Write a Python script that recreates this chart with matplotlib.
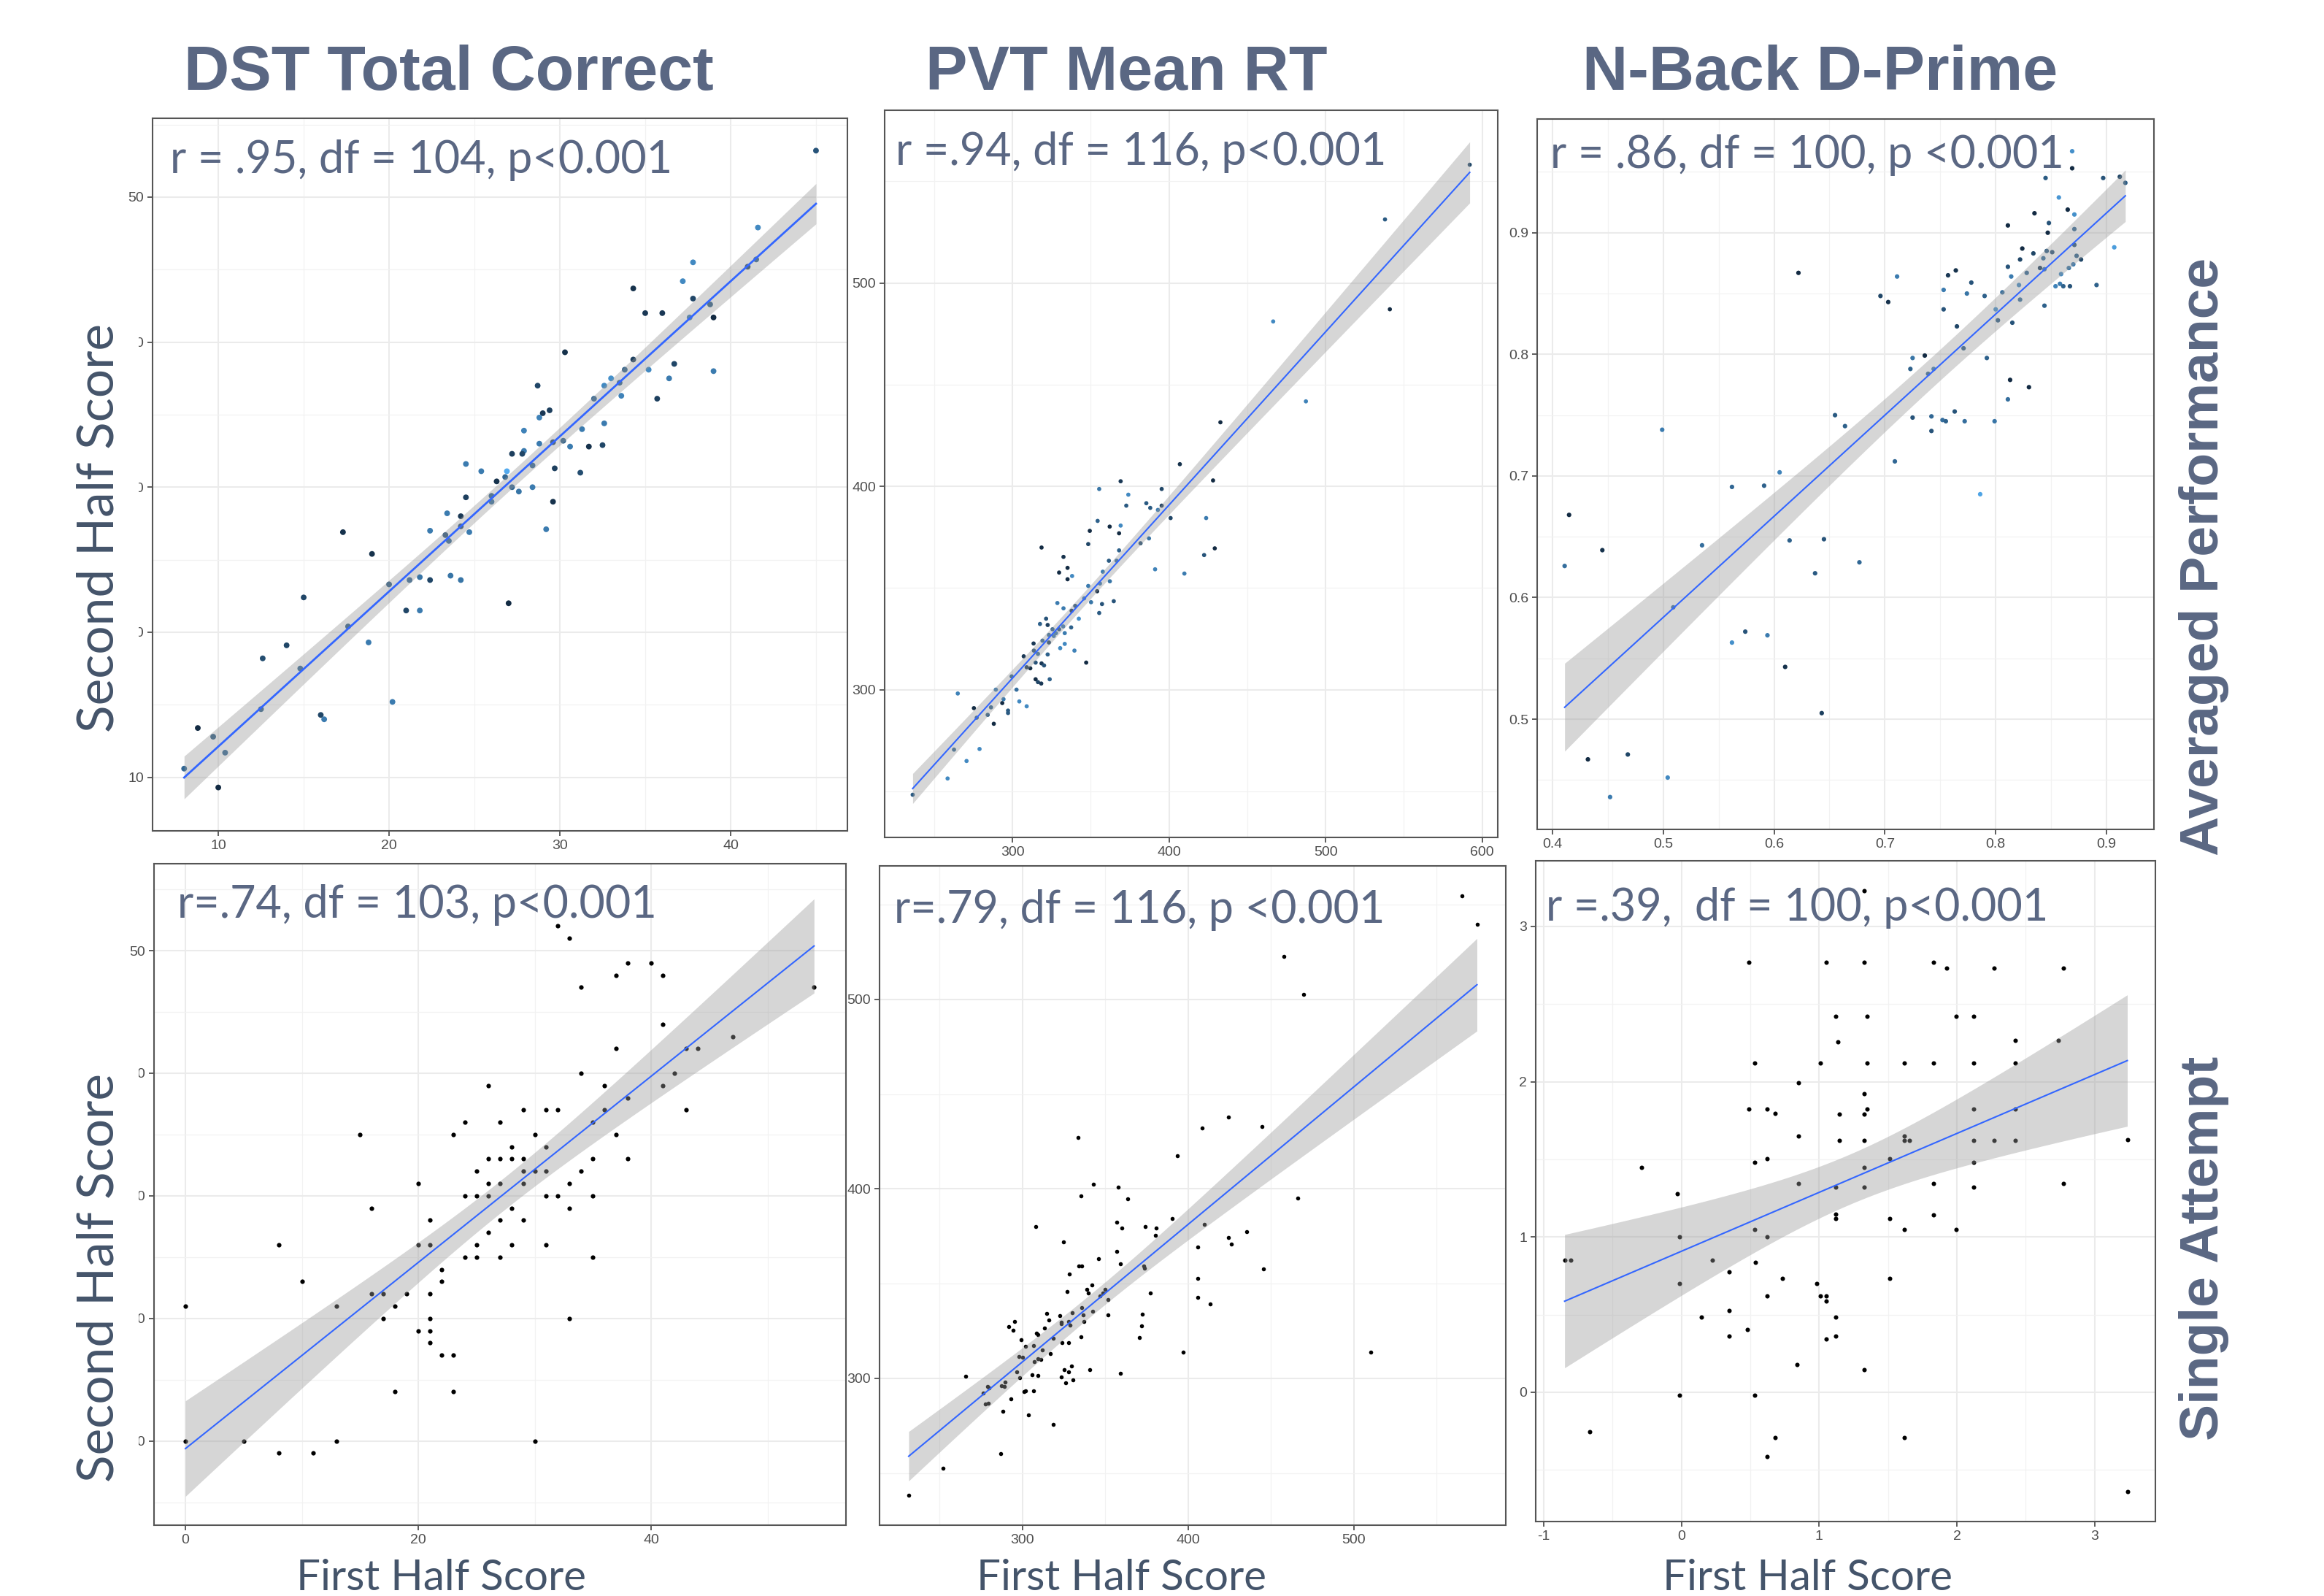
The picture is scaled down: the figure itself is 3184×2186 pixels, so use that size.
import numpy as np
import matplotlib
matplotlib.use("Agg")
import matplotlib.pyplot as plt
from matplotlib.patches import Rectangle

plt.rcParams['axes.unicode_minus'] = False

W, H = 3184, 2186

col_titles = ["DST Total Correct", "PVT Mean RT", "N-Back D-Prime"]
row_titles = ["Averaged Performance", "Single Attempt"]
stats = ["r = .95, df = 104, p<0.001", "r =.94, df = 116, p<0.001", "r = .86, df = 100, p <0.001",
         "r=.74, df = 103, p<0.001", "r=.79, df = 116, p <0.001", "r =.39,  df = 100, p<0.001"]

# DST averaged: x, y, colour level (0 = dark, 1 = light)
dst_avg_x = [45.0, 41.6, 41.5, 41.0, 37.8, 37.2, 34.3, 37.8, 35.0, 36.0, 38.8, 39.0, 37.6, 30.3, 34.3, 33.8,
             35.2, 36.7, 39.0, 33.0, 36.4, 33.5, 32.6, 28.7, 32.0, 33.6, 35.7, 29.4, 29.0, 28.8, 32.6, 27.9,
             31.3, 30.2, 29.6, 28.8, 30.6, 31.7, 32.5, 27.9, 27.8, 27.2, 24.5, 25.4, 28.4, 29.7, 31.2, 26.9,
             26.8, 26.3, 27.2, 27.6, 28.4, 26.0, 26.0, 24.5, 29.6, 23.4, 24.2, 24.2, 22.4, 24.7, 23.3, 23.5,
             29.2, 17.3, 19.0, 20.0, 21.2, 21.8, 22.4, 23.6, 24.2, 21.0, 21.8, 27.0, 15.0, 17.6, 18.8, 14.0,
             12.6, 14.8, 20.2, 12.5, 16.0, 16.2, 8.8, 9.7, 10.4, 8.0, 10.0]
dst_avg_y = [53.2, 47.9, 45.7, 45.2, 45.5, 44.2, 43.7, 43.0, 42.0, 42.0, 42.6, 41.7, 41.7, 39.3, 38.8, 38.1,
             38.1, 38.5, 38.0, 37.5, 37.5, 37.2, 37.0, 37.0, 36.1, 36.3, 36.1, 35.3, 35.1, 34.8, 34.4, 33.9,
             34.0, 33.2, 33.1, 33.0, 32.8, 32.8, 32.9, 32.5, 32.3, 32.3, 31.6, 31.1, 31.5, 31.3, 31.0, 31.1,
             30.7, 30.4, 30.0, 29.7, 30.0, 29.4, 29.0, 29.3, 29.0, 28.2, 28.0, 27.3, 27.0, 26.9, 26.7, 26.3,
             27.1, 26.9, 25.4, 23.3, 23.6, 23.8, 23.6, 23.9, 23.6, 21.5, 21.5, 22.0, 22.4, 20.4, 19.3, 19.1,
             18.2, 17.5, 15.2, 14.7, 14.3, 14.0, 13.4, 12.8, 11.7, 10.6, 9.3]
dst_avg_c = [0.3, 0.7, 0.4, 0.2, 0.7, 0.7, 0.05, 0.2, 0.1, 0.1, 0.35, 0.0, 0.6, 0.05, 0.15, 0.4,
             0.7, 0.2, 0.6, 0.75, 0.6, 0.4, 0.7, 0.2, 0.45, 0.65, 0.15, 0.15, 0.1, 0.65, 0.6, 0.65,
             0.6, 0.4, 0.2, 0.6, 0.6, 0.05, 0.2, 0.6, 0.2, 0.15, 0.6, 0.6, 0.45, 0.15, 0.25, 0.95,
             0.45, 0.05, 0.45, 0.55, 0.6, 0.4, 0.5, 0.15, 0.05, 0.6, 0.1, 0.25, 0.6, 0.6, 0.3, 0.45,
             0.6, 0.05, 0.05, 0.35, 0.45, 0.55, 0.2, 0.55, 0.55, 0.2, 0.6, 0.0, 0.2, 0.35, 0.6, 0.2,
             0.25, 0.45, 0.6, 0.4, 0.2, 0.6, 0.0, 0.35, 0.45, 0.45, 0.0]

# PVT averaged
pvt_avg_x = [592.0, 537.9, 541.0, 466.5, 487.4, 432.8, 406.9, 428.1, 369.1, 355.4, 395.3, 374.0, 385.5, 372.7,
             388.0, 392.9, 395.3, 369.1, 362.1, 354.4, 349.4, 368.1, 423.7, 401.0, 318.6, 348.4, 381.8, 387.2,
             429.2, 422.4, 332.6, 368.1, 361.6, 366.5, 335.2, 329.8, 338.1, 335.2, 357.7, 391.1, 409.8, 362.2,
             348.4, 355.9, 354.1, 350.2, 357.2, 364.7, 355.4, 345.8, 332.6, 340.1, 337.8, 328.7, 342.4, 321.5,
             317.6, 322.5, 325.6, 332.4, 337.5, 329.8, 327.8, 333.4, 323.3, 326.4, 319.2, 313.5, 323.3, 333.4,
             330.5, 339.6, 313.7, 316.3, 322.5, 307.2, 309.1, 311.4, 318.6, 320.2, 314.8, 347.1, 314.8, 316.3,
             318.4, 323.8, 299.5, 302.6, 289.4, 265.1, 293.5, 294.3, 304.4, 309.1, 275.4, 297.2, 297.2, 286.3,
             277.2, 288.1, 284.2, 262.7, 279.0, 270.7, 258.6, 236.3]
pvt_avg_y = [558.2, 531.3, 487.1, 481.1, 441.8, 431.5, 410.9, 402.9, 402.5, 398.7, 398.7, 395.9, 391.7, 390.5,
             389.4, 388.4, 390.5, 380.7, 380.2, 383.0, 378.1, 376.9, 384.4, 384.4, 369.9, 371.6, 372.0, 374.4,
             369.5, 366.2, 365.3, 368.5, 363.4, 363.4, 359.9, 357.6, 355.9, 354.3, 358.0, 359.2, 357.1, 353.3,
             351.0, 352.2, 348.4, 343.0, 342.1, 343.5, 337.7, 344.9, 340.0, 341.2, 338.8, 342.6, 334.9, 334.9,
             332.3, 331.8, 329.7, 331.1, 330.6, 329.7, 327.8, 327.8, 326.9, 326.4, 324.1, 322.7, 323.2, 322.5,
             320.4, 319.2, 319.2, 317.6, 317.3, 316.4, 311.0, 310.5, 312.9, 311.9, 313.3, 313.3, 305.1, 303.7,
             303.0, 305.1, 306.5, 300.0, 300.0, 298.1, 293.4, 295.3, 294.2, 291.8, 290.9, 289.7, 288.5, 291.3,
             286.2, 283.2, 287.6, 270.5, 270.8, 264.9, 256.3, 248.3]
pvt_avg_c = [0.2, 0.35, 0.0, 0.7, 0.65, 0.0, 0.05, 0.0, 0.1, 0.55, 0.2, 0.7, 0.35, 0.35,
             0.35, 0.6, 0.15, 0.7, 0.0, 0.4, 0.0, 0.0, 0.6, 0.2, 0.0, 0.2, 0.25, 0.55,
             0.0, 0.3, 0.05, 0.4, 0.35, 0.5, 0.0, 0.0, 0.7, 0.0, 0.6, 0.65, 0.6, 0.55,
             0.6, 0.6, 0.0, 0.55, 0.3, 0.3, 0.35, 0.6, 0.6, 0.3, 0.1, 0.6, 0.75, 0.3,
             0.4, 0.15, 0.4, 0.6, 0.4, 0.3, 0.6, 0.6, 0.5, 0.6, 0.45, 0.1, 0.2, 0.7,
             0.7, 0.65, 0.3, 0.5, 0.4, 0.1, 0.1, 0.0, 0.1, 0.3, 0.3, 0.0, 0.0, 0.2,
             0.1, 0.4, 0.4, 0.5, 0.6, 0.65, 0.0, 0.6, 0.7, 0.7, 0.0, 0.35, 0.35, 0.4,
             0.4, 0.0, 0.35, 0.45, 0.7, 0.7, 0.7, 0.35]

# N-Back averaged
nb_avg_x = [0.869, 0.869, 0.845, 0.897, 0.912, 0.917, 0.857, 0.835, 0.865, 0.871, 0.811, 0.848, 0.847, 0.871,
            0.871, 0.907, 0.824, 0.846, 0.851, 0.834, 0.843, 0.822, 0.873, 0.877, 0.811, 0.840, 0.844, 0.870,
            0.866, 0.828, 0.859, 0.814, 0.757, 0.764, 0.711, 0.622, 0.778, 0.821, 0.858, 0.854, 0.861, 0.867,
            0.891, 0.753, 0.806, 0.774, 0.696, 0.790, 0.822, 0.703, 0.844, 0.753, 0.800, 0.802, 0.815, 0.765,
            0.771, 0.736, 0.725, 0.792, 0.723, 0.744, 0.739, 0.813, 0.830, 0.811, 0.655, 0.725, 0.742, 0.763,
            0.752, 0.755, 0.772, 0.799, 0.664, 0.742, 0.499, 0.709, 0.605, 0.562, 0.591, 0.786, 0.415, 0.445,
            0.535, 0.614, 0.645, 0.411, 0.677, 0.637, 0.509, 0.574, 0.594, 0.562, 0.610, 0.643, 0.468, 0.432,
            0.504, 0.452]
nb_avg_y = [0.967, 0.953, 0.945, 0.945, 0.946, 0.941, 0.929, 0.916, 0.919, 0.915, 0.906, 0.908, 0.900, 0.903,
            0.890, 0.888, 0.887, 0.885, 0.884, 0.883, 0.879, 0.878, 0.881, 0.878, 0.872, 0.871, 0.870, 0.874,
            0.871, 0.867, 0.866, 0.864, 0.865, 0.869, 0.864, 0.867, 0.859, 0.857, 0.858, 0.856, 0.856, 0.856,
            0.857, 0.853, 0.851, 0.850, 0.848, 0.848, 0.845, 0.843, 0.840, 0.837, 0.837, 0.828, 0.826, 0.823,
            0.805, 0.799, 0.797, 0.797, 0.788, 0.788, 0.784, 0.779, 0.773, 0.763, 0.750, 0.748, 0.749, 0.753,
            0.746, 0.745, 0.745, 0.745, 0.741, 0.737, 0.738, 0.712, 0.703, 0.691, 0.692, 0.685, 0.668, 0.639,
            0.643, 0.647, 0.648, 0.626, 0.629, 0.620, 0.592, 0.572, 0.569, 0.563, 0.543, 0.505, 0.471, 0.467,
            0.452, 0.436]
nb_avg_c = [0.75, 0.0, 0.35, 0.3, 0.2, 0.35, 0.8, 0.0, 0.0, 0.75, 0.0, 0.3, 0.0, 0.45,
            0.3, 0.85, 0.0, 0.35, 0.3, 0.2, 0.5, 0.2, 0.4, 0.2, 0.3, 0.15, 0.6, 0.6,
            0.55, 0.45, 0.7, 0.6, 0.1, 0.05, 0.6, 0.0, 0.3, 0.7, 0.6, 0.65, 0.4, 0.3,
            0.4, 0.6, 0.5, 0.55, 0.2, 0.4, 0.5, 0.05, 0.4, 0.3, 0.75, 0.35, 0.3, 0.2,
            0.35, 0.0, 0.55, 0.4, 0.4, 0.6, 0.45, 0.0, 0.0, 0.5, 0.35, 0.3, 0.45, 0.3,
            0.5, 0.4, 0.5, 0.55, 0.4, 0.3, 0.6, 0.45, 0.65, 0.45, 0.4, 0.9, 0.0, 0.05,
            0.5, 0.4, 0.3, 0.5, 0.45, 0.35, 0.5, 0.3, 0.6, 0.75, 0.05, 0.15, 0.2, 0.0,
            0.7, 0.6]

# DST single attempt
dst_one_x = [32, 33, 38, 40, 37, 41, 34, 54, 41, 47, 37, 43, 44, 34, 42, 26, 36, 41, 38, 29, 31, 32, 36, 43,
             24, 27, 35, 15, 23, 30, 37, 28, 31, 26, 27, 28, 29, 35, 38, 25, 29, 30, 31, 34, 20, 26, 27, 29,
             33, 24, 25, 26, 31, 32, 35, 16, 28, 33, 21, 27, 29, 26, 8, 20, 21, 25, 28, 31, 24, 25, 27, 35,
             22, 10, 22, 16, 17, 19, 21, 0, 13, 18, 17, 21, 33, 20, 21, 21, 22, 23, 18, 23, 0, 5, 13, 30, 8, 11]
dst_one_y = [52, 51, 49, 49, 48, 48, 47, 47, 44, 43, 42, 42, 42, 40, 40, 39, 39, 39, 38, 37, 37, 37, 37, 37,
             36, 36, 36, 35, 35, 35, 35, 34, 34, 33, 33, 33, 33, 33, 33, 32, 32, 32, 32, 32, 31, 31, 31, 31,
             31, 30, 30, 30, 30, 30, 30, 29, 29, 29, 28, 28, 28, 27, 26, 26, 26, 26, 26, 26, 25, 25, 25, 25,
             24, 23, 23, 22, 22, 22, 22, 21, 21, 21, 20, 20, 20, 19, 19, 18, 17, 17, 14, 14, 10, 10, 10, 10, 9, 9]

# PVT single attempt
pvt_one_x = [565.3, 574.3, 457.9, 469.7, 424.4, 408.6, 444.5, 333.7, 393.4, 342.8, 357.9, 335.2, 363.3, 466.3,
             390.2, 308.1, 357.0, 359.9, 374.1, 380.5, 409.6, 380.2, 435.2, 424.4, 426.2, 324.7, 405.6, 356.7,
             345.7, 359.2, 373.3, 373.6, 445.5, 334.0, 335.7, 328.1, 405.6, 342.1, 326.9, 338.9, 339.6, 377.0,
             346.7, 348.4, 349.9, 351.6, 405.6, 413.4, 335.7, 342.5, 372.4, 351.8, 314.4, 322.5, 329.8, 336.7,
             316.1, 323.6, 327.9, 336.9, 323.2, 328.6, 371.9, 291.7, 295.1, 294.4, 313.1, 308.3, 309.3, 299.0,
             318.6, 327.9, 323.7, 335.5, 370.7, 301.7, 306.8, 312.0, 297.8, 300.0, 309.3, 311.0, 316.9, 307.3,
             296.6, 298.5, 305.6, 309.3, 323.5, 325.0, 327.6, 329.6, 330.3, 325.9, 340.6, 358.9, 265.8, 289.5,
             287.3, 289.2, 278.7, 279.7, 276.3, 300.9, 301.9, 306.8, 292.9, 277.8, 279.5, 288.0, 303.7, 318.6,
             396.8, 510.3, 287.0, 252.1, 231.3]
pvt_one_y = [554.7, 539.5, 522.7, 502.7, 437.8, 432.0, 432.8, 427.3, 417.4, 402.6, 401.1, 396.4, 394.6, 395.1,
             384.5, 380.0, 382.6, 379.4, 380.1, 379.4, 381.1, 375.4, 377.4, 374.2, 370.7, 372.2, 369.2, 367.0,
             363.2, 360.4, 359.4, 358.2, 357.9, 359.2, 359.4, 354.9, 352.7, 349.4, 345.9, 346.9, 344.9, 344.9,
             343.6, 344.9, 346.9, 341.7, 342.7, 339.2, 337.5, 335.5, 334.0, 333.5, 334.2, 333.2, 334.5, 333.5,
             330.7, 329.5, 330.0, 330.2, 328.7, 328.0, 327.7, 327.2, 330.2, 325.5, 326.5, 323.7, 323.2, 320.2,
             321.0, 318.7, 318.7, 322.0, 321.7, 317.0, 317.3, 315.0, 311.5, 311.0, 310.5, 310.0, 313.0, 308.7,
             303.5, 300.3, 301.8, 301.5, 300.7, 304.5, 303.5, 306.5, 299.3, 297.5, 304.5, 302.7, 301.2, 298.0,
             296.3, 295.8, 295.8, 295.0, 292.3, 293.0, 293.5, 293.5, 289.3, 286.5, 287.0, 282.5, 280.8, 275.8,
             314.0, 314.0, 260.3, 252.6, 238.3]

# N-Back single attempt
nb_one_x = [1.327, 0.489, 1.053, 1.327, 1.829, 1.927, 2.272, 2.774, 1.122, 1.351, 1.996, 2.123, 1.137, 2.426,
            2.735, 0.533, 1.009, 1.351, 1.621, 1.829, 2.123, 2.426, 0.851, 1.327, 0.489, 0.620, 0.682, 1.149,
            1.327, 1.351, 2.123, 2.426, 0.851, 1.149, 1.327, 1.621, 1.621, 1.657, 2.123, 2.272, 2.426, 3.238,
            0.620, 0.533, 2.123, 1.511, -0.287, 1.327, 0.851, 1.829, 2.774, 1.122, 1.327, 2.123, -0.031, 1.122,
            1.122, 1.829, 1.511, 0.533, 1.621, 1.996, -0.013, 0.620, -0.848, -0.801, 0.224, 0.539, 0.349, 0.736,
            1.511, -0.013, 0.982, 0.620, 1.009, 1.053, 1.053, 0.349, 0.147, 1.122, 0.477, 0.349, 1.053, 1.122,
            0.837, 1.327, -0.013, 0.533, -0.667, 0.682, 1.621, 0.620, 3.238]
nb_one_y = [3.232, 2.768, 2.768, 2.768, 2.768, 2.732, 2.732, 2.732, 2.421, 2.421, 2.421, 2.421, 2.256, 2.268,
            2.268, 2.122, 2.122, 2.122, 2.122, 2.122, 2.122, 2.122, 1.994, 1.924, 1.826, 1.826, 1.796, 1.793,
            1.793, 1.826, 1.826, 1.826, 1.652, 1.622, 1.622, 1.652, 1.622, 1.622, 1.622, 1.622, 1.622, 1.628,
            1.506, 1.479, 1.479, 1.506, 1.448, 1.448, 1.345, 1.345, 1.345, 1.323, 1.323, 1.323, 1.280, 1.146,
            1.119, 1.143, 1.119, 1.049, 1.049, 1.049, 1.003, 1.003, 0.851, 0.851, 0.851, 0.838, 0.774, 0.735,
            0.735, 0.701, 0.701, 0.619, 0.619, 0.619, 0.588, 0.527, 0.485, 0.485, 0.405, 0.360, 0.344, 0.360,
            0.177, 0.143, -0.018, -0.018, -0.256, -0.293, -0.293, -0.415, -0.640]

LOW = np.array([0x13, 0x2B, 0x43]) / 255
HIGH = np.array([0x56, 0xB1, 0xF7]) / 255


def shade(levels):
    v = np.asarray(levels)[:, None]
    return LOW + v * (HIGH - LOW)


def fig_rect(x0, y0, x1, y1):
    return [x0 / W, 1 - y1 / H, (x1 - x0) / W, (y1 - y0) / H]


def panel(box, x, y, colors, size, lw, xlim, ylim, xticks, yticks, xminor, yminor, fmt):
    ax = fig.add_axes(fig_rect(*box))
    x = np.asarray(x, float)
    y = np.asarray(y, float)
    ax.scatter(x, y, c=colors, s=size, linewidths=0, zorder=3)
    b, a = np.polyfit(x, y, 1)
    xs = np.linspace(x.min(), x.max(), 80)
    yhat = a + b * xs
    n = len(x)
    s = np.sqrt(np.sum((y - (a + b * x)) ** 2) / (n - 2))
    se = s * np.sqrt(1 / n + (xs - x.mean()) ** 2 / np.sum((x - x.mean()) ** 2))
    ax.fill_between(xs, yhat - 1.984 * se, yhat + 1.984 * se, color='#999999', alpha=0.4, lw=0, zorder=4)
    ax.plot(xs, yhat, color='#3366FF', lw=lw, zorder=5)
    ax.set_xlim(*xlim)
    ax.set_ylim(*ylim)
    ax.set_xticks(xticks)
    ax.set_yticks(yticks)
    ax.set_xticks(xminor, minor=True)
    ax.set_yticks(yminor, minor=True)
    ax.set_xticklabels([fmt.format(t) for t in xticks])
    ax.set_yticklabels([fmt.format(t) for t in yticks])
    ax.grid(which='major', color='#EBEBEB', lw=1.5)
    ax.grid(which='minor', color='#F2F2F2', lw=0.9)
    ax.set_axisbelow(True)
    ax.tick_params(which='major', length=5, width=1.1, color='#333333', labelsize=14,
                   labelcolor='#4D4D4D', pad=3.5)
    ax.tick_params(which='minor', length=0)
    for sp in ax.spines.values():
        sp.set_color('#555555')
        sp.set_linewidth(1.5)
    for lab in ax.get_xticklabels() + ax.get_yticklabels():
        lab.set_family('Liberation Sans')
    return ax


fig = plt.figure(figsize=(W / 100, H / 100), dpi=100)

black = '#000000'
panel((209, 162, 1161, 1138), dst_avg_x, dst_avg_y, shade(dst_avg_c), 32, 2.0,
      (6.15, 46.84), (6.31, 55.43), [10, 20, 30, 40], [10, 20, 30, 40, 50],
      [15, 25, 35, 45], [15, 25, 35, 45, 55], '{:g}')
panel((1212, 151, 2052, 1147), pvt_avg_x, pvt_avg_y, shade(pvt_avg_c), 17, 1.5,
      (218.4, 609.9), (227.3, 585.0), [300, 400, 500, 600], [300, 400, 500],
      [250, 350, 450, 550], [250, 350, 450, 550], '{:g}')
panel((2106, 163, 2951, 1136), nb_avg_x, nb_avg_y, shade(nb_avg_c), 20, 1.5,
      (0.3862, 0.9428), (0.4094, 0.9935), [0.4, 0.5, 0.6, 0.7, 0.8, 0.9], [0.5, 0.6, 0.7, 0.8, 0.9],
      [0.45, 0.55, 0.65, 0.75, 0.85], [0.45, 0.55, 0.65, 0.75, 0.85, 0.95], '{:.1f}')
panel((211, 1183, 1159, 2089), dst_one_x, dst_one_y, black, 20, 1.5,
      (-2.70, 56.74), (3.13, 57.09), [0, 20, 40], [10, 20, 30, 40, 50],
      [10, 30, 50], [5, 15, 25, 35, 45, 55], '{:g}')
panel((1205, 1186, 2063, 2089), pvt_one_x, pvt_one_y, black, 16, 1.5,
      (213.7, 591.7), (222.5, 570.5), [300, 400, 500], [300, 400, 500],
      [250, 350, 450, 550], [250, 350, 450, 550], '{:g}')
panel((2104, 1179, 2953, 2084), nb_one_x, nb_one_y, black, 19, 1.5,
      (-1.058, 3.442), (-0.833, 3.423), [-1, 0, 1, 2, 3], [0, 1, 2, 3],
      [-0.5, 0.5, 1.5, 2.5], [-0.5, 0.5, 1.5, 2.5], '{:g}')

slate = '#5A6783'
dark_slate = '#44546A'

# white boxes behind the rotated y labels (they hide part of the tick labels)
for y0, y1 in [(425, 1040), (1440, 2060)]:
    fig.patches.append(Rectangle((95 / W, 1 - y1 / H), (190 - 95) / W, (y1 - y0) / H,
                                 transform=fig.transFigure, facecolor='white', edgecolor='none', zorder=2))

for label, cx in zip(col_titles, [615, 1543, 2494]):
    fig.text(cx / W, 1 - 123 / H, label, ha='center', va='baseline', fontsize=62, fontweight='bold',
             color=slate, family='Liberation Sans')

for label, cy in zip(row_titles, [762, 1710]):
    fig.text(3020 / W, 1 - cy / H, label, ha='center', va='center', rotation=90, fontsize=54,
             fontweight='bold', color=slate, family='Liberation Sans')

for cy in [723, 1750]:
    fig.text(136 / W, 1 - cy / H, "Second Half Score", ha='center', va='center', rotation=90,
             fontsize=50, color=dark_slate, family='Lato', zorder=3)

for cx in [605, 1537, 2477]:
    fig.text(cx / W, 1 - 2178 / H, "First Half Score", ha='center', va='baseline', fontsize=42,
             color=dark_slate, family='Lato')

for label, (lx, ly) in zip(stats, [(233, 237), (1227, 226), (2124, 230), (243, 1257), (1225, 1264), (2118, 1261)]):
    fig.text(lx / W, 1 - ly / H, label, ha='left', va='baseline', fontsize=44, color=slate, family='Lato',
             zorder=3)

fig.savefig('out.png', dpi=100)
